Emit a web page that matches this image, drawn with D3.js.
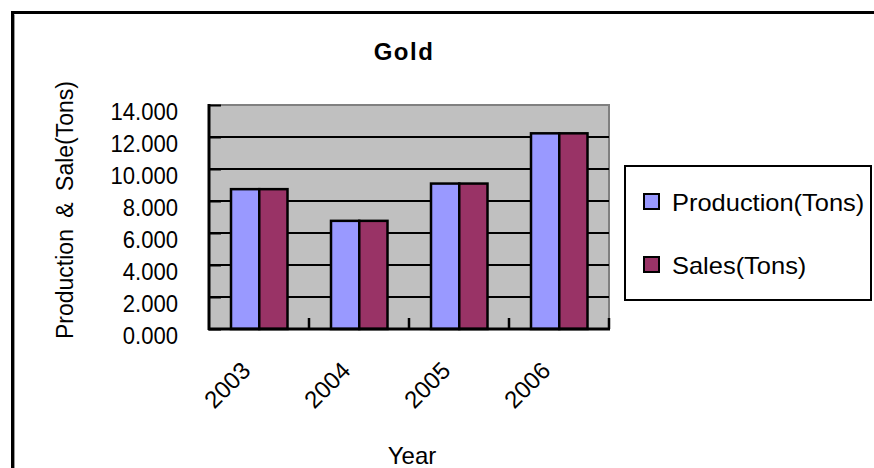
<!DOCTYPE html>
<html>
<head>
<meta charset="utf-8">
<script src="https://cdn.jsdelivr.net/npm/d3@7"></script>
<style>
  html, body { margin: 0; padding: 0; background: #fff; }
  svg { display: block; font-family: "Liberation Sans", Arial, Helvetica, sans-serif; }
</style>
</head>
<body>
<svg id="chart" width="874" height="468"></svg>
<script>
// Gold output and sales per year (tons)
const years = ["2003", "2004", "2005", "2006"];
const seriesNames = ["Production(Tons)", "Sales(Tons)"];
const production = [8.74, 6.76, 9.09, 12.23];
const sales = [8.74, 6.76, 9.09, 12.23];
const yTicks = [0, 2, 4, 6, 8, 10, 12, 14];
const seriesColors = ["#9999ff", "#993366"];

const svg = d3.select("#chart");
const W = 874, H = 468;
const plot = { left: 209, right: 609, top: 105, bottom: 329 };

// squeeze a text element horizontally to a share of its natural width
function condense(sel, factor) {
  sel.each(function () {
    const w = this.getComputedTextLength();
    d3.select(this).attr("textLength", w * factor).attr("lengthAdjust", "spacingAndGlyphs");
  });
}

// outer chart frame (left and top edges, running off the canvas)
svg.append("path")
  .attr("d", `M12.5,${H + 5} V12.5 H${W + 5}`)
  .attr("fill", "none").attr("stroke", "#000").attr("stroke-width", 3);
svg.append("path")
  .attr("d", `M14.5,${H + 5} V14.5`)
  .attr("fill", "none").attr("stroke", "#999").attr("stroke-width", 1);

// title
svg.append("text")
  .attr("x", 404).attr("y", 60)
  .attr("text-anchor", "middle")
  .attr("font-size", 24).attr("font-weight", "bold")
  .attr("letter-spacing", 1.5)
  .text("Gold");

const x0 = d3.scaleBand().domain(years).range([plot.left, plot.right]).padding(0);
const x1 = d3.scaleBand().domain(seriesNames)
  .range([x0.bandwidth() * 0.22, x0.bandwidth() * 0.785]);
const y = d3.scaleLinear().domain([0, 14]).range([plot.bottom, plot.top]);

// plot background
svg.append("rect")
  .attr("x", plot.left).attr("y", plot.top)
  .attr("width", plot.right - plot.left).attr("height", plot.bottom - plot.top)
  .attr("fill", "#c0c0c0")
  .attr("stroke", "#808080").attr("stroke-width", 2);

// horizontal gridlines
svg.append("g")
  .selectAll("line")
  .data(yTicks.filter(t => t > 0 && t < 14))
  .join("line")
  .attr("x1", plot.left).attr("x2", plot.right)
  .attr("y1", d => y(d)).attr("y2", d => y(d))
  .attr("stroke", "#000").attr("stroke-width", 2);

// bars
const seriesData = [production, sales];
const groups = svg.append("g")
  .selectAll("g")
  .data(years)
  .join("g")
  .attr("transform", d => `translate(${x0(d)},0)`);

groups.selectAll("rect")
  .data((d, i) => seriesNames.map((s, k) => ({ series: s, k, value: seriesData[k][i] })))
  .join("rect")
  .attr("x", d => x1(d.series))
  .attr("width", x1.bandwidth())
  .attr("y", d => y(d.value))
  .attr("height", d => y(0) - y(d.value))
  .attr("fill", d => seriesColors[d.k])
  .attr("stroke", "#000").attr("stroke-width", 2.5);

// y axis
const yAxis = svg.append("g")
  .attr("transform", `translate(${plot.left},0)`)
  .call(d3.axisRight(y).tickValues(yTicks).tickSize(12).tickFormat(d3.format(".3f")));
yAxis.select(".domain").remove();
yAxis.selectAll(".tick line").attr("stroke", "#000").attr("stroke-width", 2);
yAxis.selectAll(".tick text")
  .attr("x", -31).attr("dy", "0.62em")
  .attr("text-anchor", "end")
  .attr("font-size", 24).attr("fill", "#000")
  .attr("font-family", "\"Liberation Sans\", Arial, sans-serif")
  .call(condense, 0.92);
svg.append("line")
  .attr("x1", plot.left).attr("x2", plot.left)
  .attr("y1", plot.top - 1).attr("y2", plot.bottom + 1)
  .attr("stroke", "#000").attr("stroke-width", 3);

// x axis
const xAxis = svg.append("g")
  .attr("transform", `translate(0,${plot.bottom})`)
  .call(d3.axisBottom(x0).tickSize(0).tickFormat(d => d));
xAxis.select(".domain").remove();
xAxis.selectAll(".tick text")
  .attr("font-size", 24).attr("fill", "#000")
  .attr("font-family", "\"Liberation Sans\", Arial, sans-serif")
  .attr("text-anchor", "end")
  .attr("y", 0).attr("dy", 0)
  .attr("transform", "translate(-7,43) rotate(-45)");
svg.append("line")
  .attr("x1", plot.left - 1).attr("x2", plot.right + 1)
  .attr("y1", plot.bottom).attr("y2", plot.bottom)
  .attr("stroke", "#000").attr("stroke-width", 3);
// category separators on the x axis
svg.append("g")
  .selectAll("line")
  .data(years)
  .join("line")
  .attr("x1", d => x0(d) + x0.step()).attr("x2", d => x0(d) + x0.step())
  .attr("y1", plot.bottom).attr("y2", plot.bottom - 11)
  .attr("stroke", "#000").attr("stroke-width", 2.5);

// axis titles
svg.append("text")
  .attr("transform", "translate(73,210) rotate(-90)")
  .attr("text-anchor", "middle")
  .attr("font-size", 23)
  .attr("word-spacing", 5)
  .text("Production & Sale(Tons)");
svg.append("text")
  .attr("x", 412).attr("y", 464)
  .attr("text-anchor", "middle")
  .attr("font-size", 24)
  .text("Year");

// legend
const legend = svg.append("g");
legend.append("rect")
  .attr("x", 625).attr("y", 166).attr("width", 246).attr("height", 134)
  .attr("fill", "#fff").attr("stroke", "#000").attr("stroke-width", 2);
const items = legend.selectAll("g.item")
  .data(seriesNames)
  .join("g").attr("class", "item")
  .attr("transform", (d, i) => `translate(644,${194 + i * 63})`);
items.append("rect")
  .attr("width", 15).attr("height", 15)
  .attr("fill", (d, i) => seriesColors[i])
  .attr("stroke", "#000").attr("stroke-width", 2);
items.append("text")
  .attr("x", 28).attr("y", 17)
  .attr("font-size", 24)
  .text(d => d)
  .call(condense, 1.06);
</script>
</body>
</html>
